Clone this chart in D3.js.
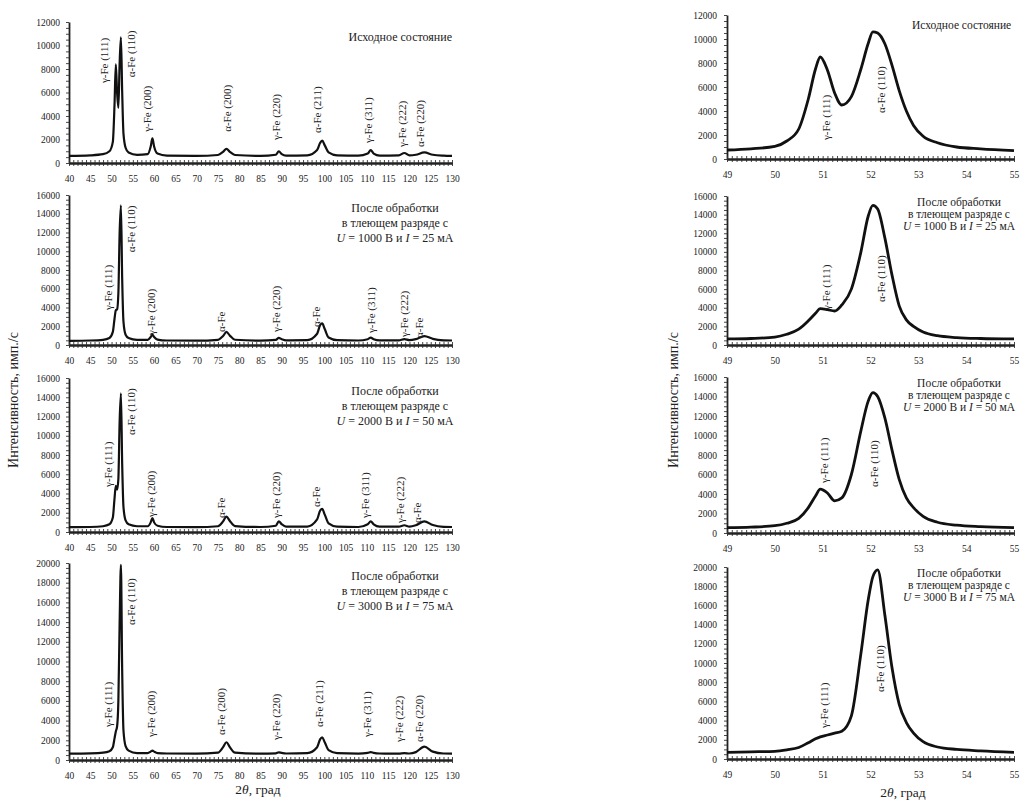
<!DOCTYPE html>
<html>
<head>
<meta charset="utf-8">
<script src="https://cdn.jsdelivr.net/npm/d3@7"></script>
<style>
  body { margin: 0; background: #fff; }
  svg { display: block; }
  text { font-family: "Liberation Serif", "Times New Roman", serif; fill: #222; }
</style>
</head>
<body>
<svg id="chart" width="1021" height="802"></svg>
<script>
// ---- data: wide scan 40..130 deg (left column) ----
const wideAngles = [40, 45, 48, 49.5, 50.3, 50.7, 51.0, 51.3, 51.6, 51.9, 52.2, 52.5, 52.8, 53.3, 54, 56,
  58.5, 59.2, 59.6, 60.0, 60.8, 63, 70, 75, 76.2, 77, 77.8, 79, 85, 88.6, 89.3, 90.0, 91, 96,
  98.3, 99.0, 99.5, 100.1, 101, 103, 108, 110.2, 110.9, 111.6, 113, 117.5, 118.8, 120, 121.5,
  123.5, 125.5, 128, 130];

const wideInitial = [600, 650, 750, 1000, 1800, 5000, 8400, 6000, 4700, 8500, 10700, 6000, 2500, 1300, 900, 700,
  750, 1400, 2100, 1400, 800, 620, 600, 680, 950, 1200, 950, 680, 600, 700, 1000, 750, 620, 650,
  1100, 1700, 1900, 1500, 900, 650, 620, 800, 1100, 800, 630, 650, 850, 650, 700,
  900, 700, 620, 600];

const wide1000 = [450, 480, 550, 750, 1400, 2800, 3700, 3800, 5500, 12000, 14900, 7000, 2500, 1100, 750, 550,
  550, 850, 1100, 850, 580, 480, 460, 550, 950, 1400, 1000, 560, 470, 550, 750, 620, 500, 520,
  1200, 2100, 2300, 1700, 800, 520, 480, 620, 780, 620, 500, 500, 620, 520, 620,
  950, 650, 500, 480];

const wide2000 = [500, 520, 600, 800, 1500, 3500, 4800, 4400, 5500, 11500, 14400, 7000, 2600, 1200, 800, 600,
  600, 1000, 1450, 1000, 650, 520, 500, 600, 1100, 1600, 1150, 620, 520, 650, 1100, 800, 560, 560,
  1300, 2200, 2400, 1800, 900, 560, 520, 800, 1100, 800, 560, 550, 700, 560, 700,
  1100, 720, 540, 520];

const wide3000 = [650, 680, 750, 900, 1300, 2200, 2900, 3400, 6000, 14000, 19800, 9000, 3000, 1400, 950, 700,
  700, 850, 950, 850, 700, 660, 650, 750, 1300, 1800, 1300, 750, 650, 680, 780, 720, 660, 700,
  1300, 2100, 2300, 1800, 1000, 700, 650, 720, 800, 720, 660, 650, 700, 660, 800,
  1350, 850, 660, 650];

// ---- data: narrow scan 49..55 deg (right column) ----
const narrowAngles = [49, 49.5, 50, 50.25, 50.5, 50.7, 50.85, 50.95, 51.1, 51.25, 51.4, 51.6, 51.8, 51.95,
  52.05, 52.15, 52.3, 52.45, 52.6, 52.75, 52.9, 53.1, 53.4, 53.8, 54.3, 55];

const narrowInitial = [750, 850, 1050, 1500, 2500, 5000, 7500, 8500, 7400, 5500, 4500, 5200, 7500, 9600,
  10600, 10500, 9600, 7800, 5700, 4000, 2800, 1900, 1350, 1000, 850, 700];

const narrow1000 = [650, 700, 850, 1150, 1700, 2600, 3400, 3900, 3800, 3650, 4300, 6000, 10000, 13800,
  15000, 14600, 11500, 7500, 4200, 2700, 2000, 1400, 1000, 800, 700, 650];

const narrow2000 = [550, 600, 750, 1000, 1500, 2600, 3800, 4500, 4100, 3300, 3600, 6000, 10500, 13500,
  14400, 14000, 11800, 8500, 5500, 3600, 2600, 1700, 1100, 800, 650, 550];

const narrow3000 = [700, 750, 800, 950, 1200, 1700, 2100, 2300, 2500, 2700, 2900, 4500, 11000, 16500,
  19000, 19700, 15000, 9500, 5700, 3800, 2700, 1800, 1250, 1000, 850, 700];

// ---- peak labels: [text, angle, intensity at label start] ----
const wideLabelsInitial = [["γ-Fe (111)", 48.5, 6800], ["α-Fe (110)", 54.8, 7300], ["γ-Fe (200)", 58.6, 2650],
  ["α-Fe (200)", 77.4, 2650], ["γ-Fe (220)", 88.9, 1950], ["α-Fe (211)", 98.7, 2550],
  ["γ-Fe (311)", 110.7, 1700], ["γ-Fe (222)", 118.5, 1360], ["α-Fe (220)", 122.9, 1360]];
const wideLabels1000 = [["γ-Fe (111)", 49.6, 3730], ["α-Fe (110)", 54.8, 9900], ["γ-Fe (200)", 59.5, 1070],
  ["α-Fe", 76, 1390], ["γ-Fe (220)", 88.9, 1390], ["α-Fe", 98.3, 1920],
  ["γ-Fe (311)", 111.2, 1280], ["γ-Fe (222)", 119, 850], ["α-Fe", 122.5, 750]];
const wideLabels2000 = [["γ-Fe (111)", 49.6, 4680], ["α-Fe (110)", 54.8, 10080], ["γ-Fe (200)", 59.5, 1560],
  ["α-Fe", 76, 1450], ["γ-Fe (220)", 88.9, 1450], ["α-Fe", 98.3, 2600],
  ["γ-Fe (311)", 110, 1450], ["γ-Fe (222)", 118.2, 935], ["α-Fe", 122.2, 935]];
const wideLabels3000 = [["γ-Fe (111)", 49.6, 3350], ["α-Fe (110)", 54.8, 13700], ["γ-Fe (200)", 59.5, 2330],
  ["α-Fe (200)", 76, 2540], ["γ-Fe (220)", 88.9, 2030], ["α-Fe (211)", 99, 3350],
  ["γ-Fe (311)", 110.3, 2330], ["γ-Fe (222)", 117.8, 1830], ["α-Fe (220)", 122.7, 1830]];

const narrowLabelsInitial = [["γ-Fe (111)", 51.1, 1580], ["α-Fe (110)", 52.26, 3830]];
const narrowLabels1000 = [["γ-Fe (111)", 51.1, 3760], ["α-Fe (110)", 52.26, 4620]];
const narrowLabels2000 = [["γ-Fe (111)", 51.05, 5130], ["α-Fe (110)", 52.1, 4720]];
const narrowLabels3000 = [["γ-Fe (111)", 51.05, 3230], ["α-Fe (110)", 52.22, 6980]];

// ---- legends ----
const legendInitial = ["Исходное состояние"];
const legendTreated = [["1000", "25"], ["2000", "50"], ["3000", "75"]];

const svg = d3.select("#chart");

const wideCol = { x0: 69, x1: 452, domain: [40, 130], major: 5, minor: 1 };
const narrowCol = { x0: 727, x1: 1014, domain: [49, 55], major: 1, minor: 0.1 };

const panels = [
  { col: wideCol, top: 22, bottom: 163, yMax: 12000, ys: wideInitial, xs: wideAngles, labels: wideLabelsInitial, legend: null },
  { col: wideCol, top: 195, bottom: 345, yMax: 16000, ys: wide1000, xs: wideAngles, labels: wideLabels1000, legend: legendTreated[0] },
  { col: wideCol, top: 378, bottom: 532, yMax: 16000, ys: wide2000, xs: wideAngles, labels: wideLabels2000, legend: legendTreated[1] },
  { col: wideCol, top: 563, bottom: 760, yMax: 20000, ys: wide3000, xs: wideAngles, labels: wideLabels3000, legend: legendTreated[2] },
  { col: narrowCol, top: 15, bottom: 159, yMax: 12000, ys: narrowInitial, xs: narrowAngles, labels: narrowLabelsInitial, legend: null },
  { col: narrowCol, top: 196, bottom: 345, yMax: 16000, ys: narrow1000, xs: narrowAngles, labels: narrowLabels1000, legend: legendTreated[0] },
  { col: narrowCol, top: 377, bottom: 533, yMax: 16000, ys: narrow2000, xs: narrowAngles, labels: narrowLabels2000, legend: legendTreated[1] },
  { col: narrowCol, top: 567, bottom: 759, yMax: 20000, ys: narrow3000, xs: narrowAngles, labels: narrowLabels3000, legend: legendTreated[2] }
];

panels.forEach(drawPanel);

function drawPanel(p) {
  const c = p.col;
  const wide = c === wideCol;
  const x = d3.scaleLinear().domain(c.domain).range([c.x0, c.x1]);
  const y = d3.scaleLinear().domain([0, p.yMax]).range([p.bottom, p.top]);
  const g = svg.append("g");

  // y axis: labels + minor ticks
  g.append("g")
    .attr("transform", `translate(${c.x0},0)`)
    .call(d3.axisLeft(y).tickValues(d3.range(0, p.yMax + 1, 2000)).tickFormat(d3.format("d"))
      .tickSize(0).tickPadding(wide ? 9 : 10))
    .call(s => s.select(".domain").remove())
    .selectAll("text").attr("font-size", 9.5).attr("fill", "#333").attr("font-family", "Liberation Serif");

  g.append("g")
    .attr("transform", `translate(${c.x0},0)`)
    .call(d3.axisLeft(y).tickValues(d3.range(0, p.yMax + 1, 500)).tickFormat("").tickSizeInner(3).tickSizeOuter(0))
    .call(s => s.select(".domain").attr("stroke", "#222").attr("stroke-width", 1.8))
    .selectAll("line").attr("stroke", "#333").attr("stroke-width", 0.9);

  // x axis: labels + crossing minor ticks
  const majors = d3.range(c.domain[0], c.domain[1] + 1e-6, c.major);
  const minors = d3.range(0, Math.round((c.domain[1] - c.domain[0]) / c.minor) + 1).map(i => c.domain[0] + i * c.minor);

  g.append("g")
    .attr("transform", `translate(0,${p.bottom})`)
    .call(d3.axisBottom(x).tickValues(majors).tickFormat(d3.format("d")).tickSize(0).tickPadding(12))
    .call(s => s.select(".domain").remove())
    .selectAll("text").attr("font-size", 9.5).attr("fill", "#333").attr("font-family", "Liberation Serif");

  [d3.axisBottom(x), d3.axisTop(x)].forEach(ax => {
    g.append("g")
      .attr("transform", `translate(0,${p.bottom})`)
      .call(ax.tickValues(minors).tickFormat("").tickSizeInner(3).tickSizeOuter(0))
      .call(s => s.select(".domain").attr("stroke", "#222").attr("stroke-width", 1.8))
      .selectAll("line").attr("stroke", "#333").attr("stroke-width", 0.9);
  });

  // curve
  const line = d3.line().x((d, i) => x(p.xs[i])).y(d => y(d)).curve(d3.curveMonotoneX);
  g.append("path")
    .datum(p.ys)
    .attr("fill", "none")
    .attr("stroke", "#111")
    .attr("stroke-width", wide ? 2.2 : 2.8)
    .attr("stroke-linejoin", "round")
    .attr("d", line);

  // peak labels (rotated, read bottom to top)
  g.selectAll(".peak")
    .data(p.labels)
    .join("text")
    .attr("class", "peak")
    .attr("transform", d => `translate(${x(d[1])},${y(d[2])}) rotate(-90)`)
    .attr("dominant-baseline", "middle")
    .attr("font-size", 11)
    .attr("fill", "#333")
    .text(d => d[0]);

  // legend
  if (!p.legend) {
    g.append("text")
      .attr("x", wide ? c.x1 : 912)
      .attr("y", wide ? 41 : 29)
      .attr("text-anchor", wide ? "end" : "start")
      .attr("font-size", wide ? 12 : 11.5)
      .text(legendInitial[0]);
  } else {
    const cx = wide ? 395 : 959;
    const lh = wide ? 15 : 11.8;
    const y0 = p.top + (wide ? 17 : 10);
    const t = g.append("g").attr("font-size", wide ? 12 : 11.5).attr("text-anchor", "middle");
    t.append("text").attr("x", cx).attr("y", y0).text("После обработки");
    t.append("text").attr("x", cx).attr("y", y0 + lh).text("в тлеющем разряде с");
    const l3 = t.append("text").attr("x", cx).attr("y", y0 + 2 * lh);
    l3.append("tspan").attr("font-style", "italic").text("U");
    l3.append("tspan").text(` = ${p.legend[0]} В и `);
    l3.append("tspan").attr("font-style", "italic").text("I");
    l3.append("tspan").text(` = ${p.legend[1]} мА`);
  }
}

// axis titles
[15, 675].forEach(px => {
  svg.append("text")
    .attr("transform", `translate(${px},400) rotate(-90)`)
    .attr("text-anchor", "middle")
    .attr("dominant-baseline", "middle")
    .attr("font-size", 14)
    .text("Интенсивность, имп./с");
});

[{ x: 258, y: 794 }, { x: 903, y: 797 }].forEach(o => {
  const t = svg.append("text")
    .attr("x", o.x).attr("y", o.y)
    .attr("text-anchor", "middle")
    .attr("font-size", 13.5);
  t.append("tspan").text("2");
  t.append("tspan").attr("font-style", "italic").text("θ");
  t.append("tspan").text(", град");
});
</script>
</body>
</html>
